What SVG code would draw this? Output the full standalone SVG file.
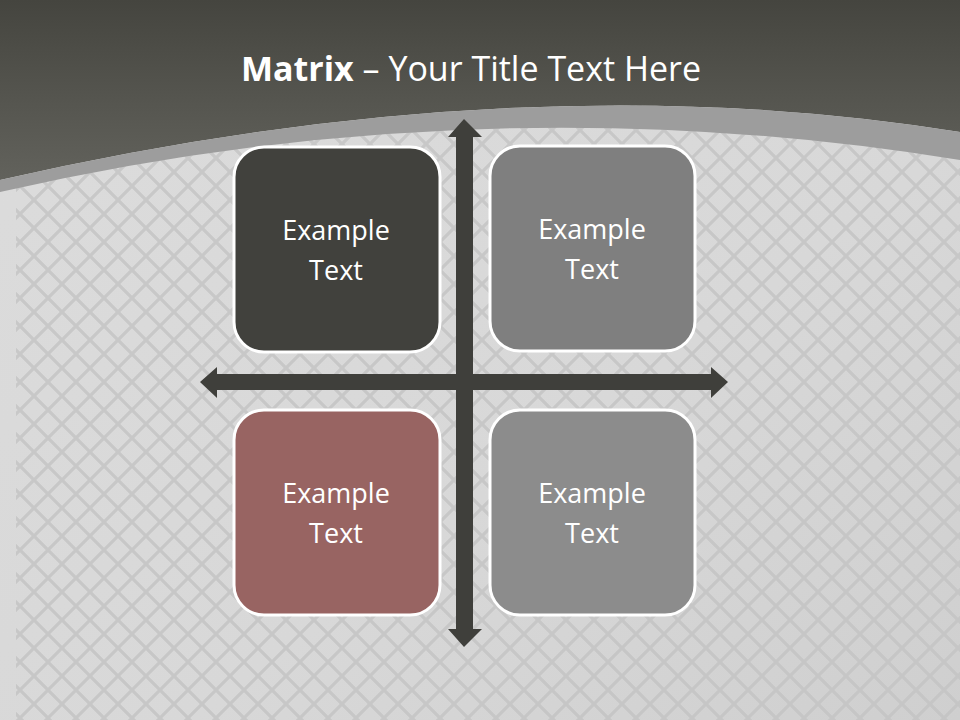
<svg xmlns="http://www.w3.org/2000/svg" width="960" height="720" viewBox="0 0 960 720">
<defs>
<linearGradient id="hdr" x1="0" y1="0" x2="0" y2="1">
<stop offset="0" stop-color="#45453f"/>
<stop offset="1" stop-color="#62625c"/>
</linearGradient>
<linearGradient id="bg" x1="0" y1="0" x2="1" y2="1">
<stop offset="0" stop-color="#dcdcdc"/>
<stop offset="0.6" stop-color="#d8d8d8"/>
<stop offset="1" stop-color="#cfcfcf"/>
</linearGradient>
<pattern id="lat" width="28" height="28" patternUnits="userSpaceOnUse" patternTransform="translate(6,4)">
<path d="M0,0 L28,28 M28,0 L0,28 M-14,14 L14,42 M14,-14 L42,14 M-14,14 L14,-14 M14,42 L42,14" stroke="#c3c3c3" stroke-width="3.2" fill="none"/>
</pattern>
<style>
.box{stroke:#ffffff;stroke-width:3}
.lbl{font-family:"Open Sans","DejaVu Sans",sans-serif;font-size:27px;fill:#ffffff;text-anchor:middle}
.arr{fill:#3f3f3b}
</style>
</defs>
<rect width="960" height="720" fill="url(#bg)"/>
<rect x="16" y="0" width="944" height="720" fill="url(#lat)" opacity="0.8"/>
<path d="M0,0 H960 V132 Q520,61 0,180 Z" fill="url(#hdr)"/>
<path d="M0,180 Q520,61 960,132 V160 Q480,82 0,192 Z" fill="#9d9d9d"/>
<text x="471" y="81" font-family="'Open Sans','DejaVu Sans',sans-serif" font-size="34" fill="#ffffff" text-anchor="middle"><tspan font-weight="bold">Matrix</tspan> – Your Title Text Here</text>
<g id="connectors">
<path class="arr" d="M464,119 L482,137 L473,137 L473,629 L482,629 L464,647 L448,629 L456,629 L456,137 L448,137 Z"/>
<path class="arr" d="M200,382 L217,367 L217,374 L711,374 L711,367 L728,382 L711,398 L711,390 L217,390 L217,398 Z"/>
</g>
<g id="n1">
<rect class="box" x="234" y="147" width="206" height="205" rx="30" fill="#41413d"/>
<text class="lbl" x="336" y="240">Example</text>
<text class="lbl" x="336" y="280">Text</text>
</g>
<g id="n2">
<rect class="box" x="490" y="146" width="205" height="205" rx="30" fill="#7f7f7f"/>
<text class="lbl" x="592" y="239">Example</text>
<text class="lbl" x="592" y="279">Text</text>
</g>
<g id="n3">
<rect class="box" x="234" y="410" width="206" height="205" rx="30" fill="#986462"/>
<text class="lbl" x="336" y="503">Example</text>
<text class="lbl" x="336" y="543">Text</text>
</g>
<g id="n4">
<rect class="box" x="490" y="410" width="205" height="205" rx="30" fill="#8c8c8c"/>
<text class="lbl" x="592" y="503">Example</text>
<text class="lbl" x="592" y="543">Text</text>
</g>
</svg>
